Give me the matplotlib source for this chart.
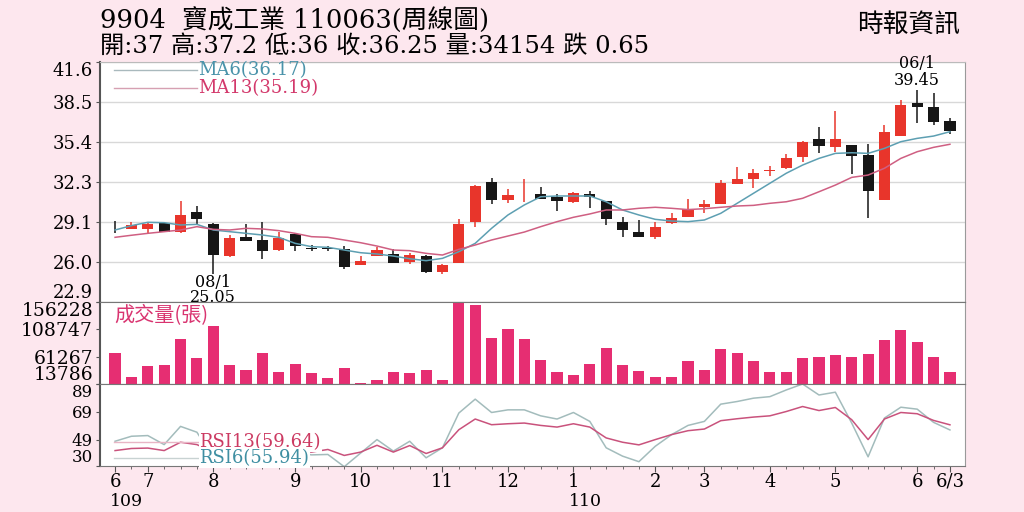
import matplotlib
matplotlib.use("Agg")
import matplotlib.pyplot as plt
import numpy as np

# weekly data, 109/6 .. 110/6/3
opens = [28.58, 28.60, 28.61, 29.08, 28.35, 29.91, 29.00, 26.48, 27.94, 27.75,
         26.95, 28.17, 27.11, 27.10, 27.00, 25.78, 26.51, 26.62, 26.04, 26.48,
         25.21, 25.96, 29.13, 32.27, 30.82, 31.29, 31.29, 31.08, 30.69, 31.34,
         30.79, 29.16, 28.33, 27.99, 29.03, 29.55, 30.32, 30.53, 32.12, 32.50,
         33.10, 33.32, 34.17, 35.62, 35.00, 35.10, 34.35, 30.82, 35.85, 38.38,
         38.11, 37.00]
highs = [29.23, 29.11, 29.15, 29.15, 30.79, 30.40, 29.05, 28.10, 28.95, 29.11,
         28.38, 28.30, 27.32, 27.30, 27.26, 26.48, 27.21, 27.00, 26.69, 26.60,
         25.86, 29.37, 32.00, 32.54, 31.68, 32.48, 31.84, 31.29, 31.50, 31.57,
         30.80, 29.50, 29.29, 29.10, 29.81, 30.90, 30.85, 32.40, 33.44, 33.24,
         33.50, 34.40, 35.45, 36.51, 37.78, 35.15, 35.21, 36.69, 38.64, 39.45,
         39.16, 37.20]
lows = [28.30, 28.56, 28.25, 28.33, 28.30, 28.98, 25.05, 26.40, 27.66, 26.23,
        26.90, 26.90, 26.90, 26.90, 25.45, 25.78, 26.48, 25.90, 25.86, 25.14,
        25.10, 25.96, 28.77, 30.51, 30.59, 30.69, 30.90, 29.99, 30.65, 30.20,
        28.90, 27.99, 27.96, 27.81, 29.00, 29.50, 29.81, 30.50, 32.10, 31.76,
        32.72, 33.30, 33.83, 34.48, 34.60, 32.85, 29.47, 30.82, 35.80, 36.82,
        36.69, 36.00]
closes = [28.55, 28.92, 28.98, 28.35, 29.70, 29.34, 26.54, 27.91, 27.68, 26.87,
          27.86, 27.29, 27.00, 27.05, 25.60, 26.12, 26.93, 25.96, 26.54, 25.21,
          25.78, 28.95, 31.94, 30.82, 31.26, 31.30, 30.95, 30.79, 31.41, 31.06,
          29.34, 28.51, 27.99, 28.77, 29.47, 30.15, 30.51, 32.15, 32.50, 32.93,
          33.15, 34.14, 35.39, 35.05, 35.57, 34.25, 31.52, 36.12, 38.25, 38.11,
          36.90, 36.25]
volume = [67640, 25250, 44360, 46100, 91950, 59470, 115060, 46790, 37410, 67640,
          34630, 48530, 32200, 24730, 41580, 15000, 20730, 33940, 32200, 38630,
          21250, 156228, 150320, 93000, 109850, 91950, 54780, 33940, 29940, 49050,
          76840, 46790, 36370, 25950, 25950, 54260, 38100, 74580, 66940, 53740,
          33940, 35150, 59470, 60690, 64680, 60690, 65200, 89520, 108110, 87270,
          60690, 34154]
ma6 = [28.51, 28.85, 29.11, 29.08, 28.90, 28.95, 28.51, 28.38, 28.25, 28.12,
       27.94, 27.47, 27.21, 27.16, 26.95, 26.74, 26.64, 26.48, 26.27, 26.12,
       26.30, 26.82, 27.47, 28.64, 29.68, 30.46, 31.10, 31.16, 31.16, 31.16,
       30.71, 30.07, 29.68, 29.34, 29.21, 29.16, 29.29, 29.81, 30.59, 31.37,
       32.15, 32.93, 33.57, 34.09, 34.48, 34.53, 34.48, 34.87, 35.39, 35.65,
       35.83, 36.17]
ma13 = [27.94, 28.10, 28.25, 28.38, 28.51, 28.77, 28.56, 28.51, 28.64, 28.59,
        28.46, 28.25, 27.99, 27.94, 27.73, 27.52, 27.26, 26.95, 26.90, 26.69,
        26.56, 27.00, 27.34, 27.73, 28.04, 28.35, 28.77, 29.16, 29.50, 29.76,
        30.07, 30.07, 30.20, 30.28, 30.20, 30.10, 30.17, 30.28, 30.38, 30.43,
        30.59, 30.71, 30.98, 31.49, 32.01, 32.61, 32.79, 33.32, 34.09, 34.61,
        34.95, 35.19]
rsi6 = [47.8, 51.4, 51.9, 45.4, 58.5, 54.3, 36.0, 45.0, 42.0, 36.0,
        45.0, 40.0, 38.0, 38.3, 29.5, 39.3, 49.0, 40.7, 47.8, 35.9,
        43.1, 68.1, 78.1, 68.5, 70.4, 70.4, 66.1, 63.8, 68.5, 62.1,
        43.1, 37.1, 33.1, 44.2, 52.6, 59.2, 62.1, 74.5, 76.4, 78.8,
        79.9, 84.7, 89.0, 81.1, 83.1, 60.9, 36.6, 64.5, 72.3, 70.9,
        61.4, 55.94]
rsi13 = [41.1, 42.6, 42.9, 41.1, 47.1, 45.4, 40.0, 43.0, 42.0, 39.0,
         42.0, 41.0, 40.0, 41.9, 37.6, 40.0, 44.9, 40.0, 44.7, 39.0,
         43.1, 56.1, 63.8, 59.7, 60.4, 60.9, 59.2, 58.0, 60.4, 58.0,
         50.2, 47.1, 45.2, 49.0, 52.6, 55.4, 56.6, 62.6, 64.0, 65.2,
         66.1, 69.2, 72.8, 69.9, 72.1, 63.3, 49.0, 63.8, 68.5, 67.6,
         62.8, 59.64]

month_pos = [0, 2, 6, 11, 15, 20, 24, 28, 33, 36, 40, 44, 49, 51]
month_lab = ['6', '7', '8', '9', '10', '11', '12', '1', '2', '3', '4', '5', '6', '6/3']
price_ticks = ['22.9', '26.0', '29.1', '32.3', '35.4', '38.5', '41.6']
vol_ticks = [13786, 61267, 108747, 156228]
rsi_ticks = [30, 49, 69, 89]

BG = '#fde7ee'
RED = '#e8352b'
BLK = '#161616'
PINK = '#e62e72'
serif = ['DejaVu Serif', 'Noto Sans CJK TC']
plt.rcParams['font.family'] = serif

n = len(closes)
x = np.arange(n)

fig = plt.figure(figsize=(10.24, 5.12), dpi=100, facecolor=BG)
L, W = 100 / 1024, 865 / 1024
axp = fig.add_axes([L, 1 - 302 / 512, W, 240 / 512])
axv = fig.add_axes([L, 1 - 384 / 512, W, 82 / 512])
axr = fig.add_axes([L, 1 - 466 / 512, W, 82 / 512])

for ax in (axp, axv, axr):
    ax.set_xlim(-0.92, 51.92)
    ax.set_facecolor('white')
    ax.spines['left'].set_color('#555555')
    ax.spines['left'].set_linewidth(1.5)
    ax.spines['right'].set_color('#9a9a9a')
    ax.spines['top'].set_color('#bbbbbb')
    ax.spines['bottom'].set_color('#777777')
    ax.tick_params(axis='y', length=3, color='#555555', labelsize=13, pad=2)

# price panel
for i in range(n):
    o, h, l, c = opens[i], highs[i], lows[i], closes[i]
    col = RED if c >= o else BLK
    axp.vlines(x[i], l, h, color=col, lw=1.1, zorder=3)
    axp.bar(x[i], max(abs(c - o), 0.06), bottom=min(o, c), width=0.68,
            color=col, zorder=4)
axp.plot(x, ma6, color='#5d9fb2', lw=1.1, zorder=5)
axp.plot(x, ma13, color='#cf5f82', lw=1.1, zorder=5)
yt = np.linspace(22.9, 41.6, 7)
axp.set_ylim(22.9, 41.6)
axp.set_yticks(yt)
axp.set_yticklabels(price_ticks)
axp.grid(axis='y', color='#d8d8d8', lw=1)
axp.set_axisbelow(True)
axp.tick_params(axis='x', bottom=False, labelbottom=False)

axp.plot([0.016, 0.112], [0.967, 0.967], transform=axp.transAxes, color='#a9b9bd', lw=1)
axp.plot([0.016, 0.112], [0.893, 0.893], transform=axp.transAxes, color='#d6a0b2', lw=1)
axp.text(0.113, 0.967, 'MA6(%.2f)' % ma6[-1], transform=axp.transAxes, color='#4a93aa',
         fontsize=13, va='center')
axp.text(0.113, 0.893, 'MA13(%.2f)' % ma13[-1], transform=axp.transAxes, color='#d3386b',
         fontsize=13, va='center')

lo_i = int(np.argmin(lows))
hi_i = int(np.argmax(highs))
axp.text(lo_i, 24.45, '08/1', ha='center', va='center', fontsize=11.5)
axp.text(lo_i, 23.28, '%.2f' % lows[lo_i], ha='center', va='center', fontsize=11.5,
         clip_on=False)
axp.text(hi_i, 41.5, '06/1', ha='center', va='center', fontsize=11.5, clip_on=False)
axp.text(hi_i, 40.15, '%.2f' % highs[hi_i], ha='center', va='center', fontsize=11.5)

# volume panel
axv.bar(x, np.array(volume) - vol_ticks[0], bottom=vol_ticks[0], width=0.68, color=PINK)
axv.set_ylim(vol_ticks[0], vol_ticks[-1])
axv.set_yticks(vol_ticks)
axv.set_yticklabels([str(v) for v in vol_ticks])
axv.tick_params(axis='y', labelsize=13.5)
axv.tick_params(axis='x', bottom=False, labelbottom=False)
axv.spines['top'].set_color('#777777')
axv.text(0.017, 0.84, '成交量(張)', transform=axv.transAxes, color='#d93470',
         fontsize=14.5, va='center', family=['Noto Sans CJK TC'])

# rsi panel
axr.plot(x, rsi6, color='#a3bcbc', lw=1.1, zorder=2)
axr.plot(x, rsi13, color='#c9527c', lw=1.1, zorder=3)
axr.set_ylim(rsi_ticks[0], rsi_ticks[-1])
axr.set_yticks(rsi_ticks)
axr.set_yticklabels([str(v) for v in rsi_ticks])
axr.tick_params(axis='y', labelsize=12)
axr.spines['top'].set_color('#777777')
axr.plot([0.016, 0.114], [0.293, 0.293], transform=axr.transAxes, color='#e8b5c5', lw=1, zorder=4)
axr.plot([0.016, 0.114], [0.098, 0.098], transform=axr.transAxes, color='#c8d2d2', lw=1, zorder=4)
axr.text(0.115, 0.293, 'RSI13(%.2f)' % rsi13[-1], transform=axr.transAxes, color='#cc3a62',
         fontsize=13, va='center', zorder=6,
         bbox=dict(facecolor='white', edgecolor='none', pad=0.5))
axr.text(0.115, 0.098, 'RSI6(%.2f)' % rsi6[-1], transform=axr.transAxes, color='#3f8fa2',
         fontsize=13, va='center', zorder=6,
         bbox=dict(facecolor='white', edgecolor='none', pad=0.5))
axr.set_xticks(month_pos)
axr.set_xticklabels(month_lab)
axr.set_xticks(x, minor=True)
axr.tick_params(axis='x', which='major', length=4, color='#555555', labelsize=13, pad=1)
axr.tick_params(axis='x', which='minor', length=2, color='#555555')
axr.text(month_pos[0] - 0.3, -0.43, '109', transform=axr.get_xaxis_transform(),
         fontsize=12.5, va='center', ha='left')
axr.text(month_pos[7] - 0.25, -0.43, '110', transform=axr.get_xaxis_transform(),
         fontsize=12.5, va='center', ha='left')

# edge tick labels sit inside the panel
for ax in (axp, axv, axr):
    labs = ax.get_yticklabels()
    labs[0].set_verticalalignment('bottom')
    labs[-1].set_verticalalignment('top')

# header
fig.text(L, 1 - 21 / 512, '9904  寶成工業 110063(周線圖)', fontsize=18.5, va='center')
fig.text(L, 1 - 46 / 512, '開:%g 高:%g 低:%g 收:%g 量:%d 跌 %.2f' % (
    opens[-1], highs[-1], lows[-1], closes[-1], volume[-1], closes[-2] - closes[-1]),
    fontsize=17.5, va='center')
fig.text(960 / 1024, 1 - 24 / 512, '時報資訊', fontsize=18.5, va='center', ha='right')

fig.savefig('out.png', dpi=100, facecolor=BG)
